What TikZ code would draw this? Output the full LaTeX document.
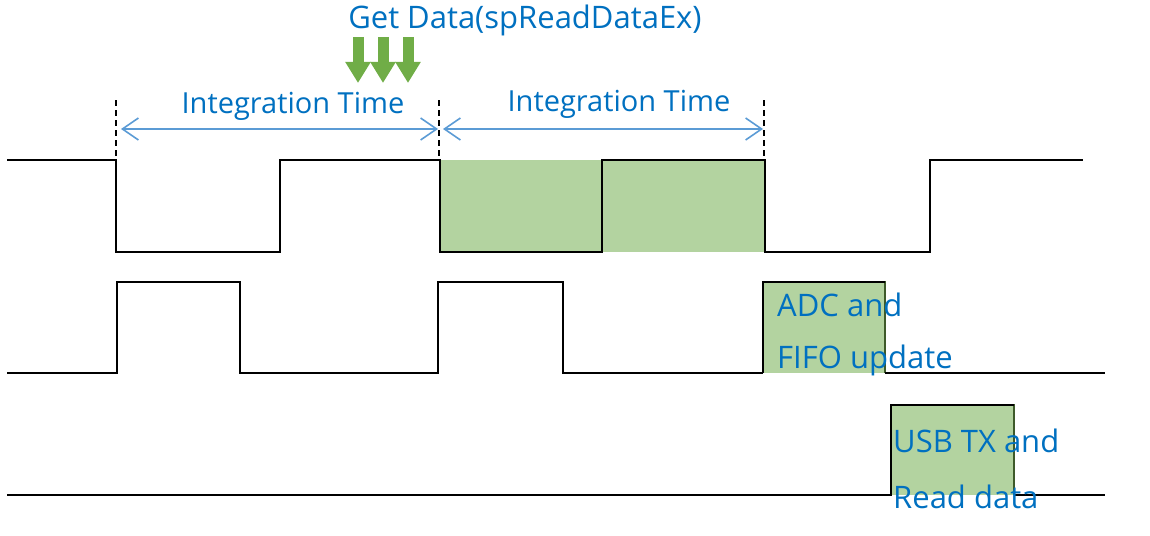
\documentclass[tikz,border=0pt]{standalone}
\usepackage{fontspec}
\setmainfont{Open Sans}
\usetikzlibrary{arrows.meta}
\definecolor{lbl}{HTML}{0070C0}
\definecolor{arr}{HTML}{5B9BD5}
\definecolor{gfill}{HTML}{B3D3A0}
\definecolor{gedge}{HTML}{3E5A2A}
\definecolor{garrow}{HTML}{70AD47}
\tikzset{
  wave/.style={black, line width=1.6pt},
  lbltext/.style={text=lbl, font=\fontsize{31}{36}\selectfont, inner sep=0pt, anchor=west},
  dimtext/.style={text=lbl, font=\fontsize{29}{34}\selectfont, inner sep=0pt, anchor=center},
  dimarrow/.style={arr, line width=1.6pt, {Straight Barb[length=16pt,width=22pt]}-{Straight Barb[length=16pt,width=22pt]}},
  guide/.style={black, line width=1.5pt, dash pattern=on 6pt off 4pt},
  getarrow/.style={garrow, line width=11pt, -{Triangle[length=21pt,width=24pt]}},
  busybox/.style={fill=gfill, draw=gedge, line width=1.2pt}
}
\begin{document}
\begin{tikzpicture}[x=1pt,y=-1pt]
\useasboundingbox (0,0) rectangle (1150,535);
% integration-period fill
\fill[gfill] (440,160) rectangle (765,252);
% busy boxes
\draw[busybox] (763,373) -- (763,282) -- (885,282) -- (885,373);
\draw[busybox] (891,495) -- (891,405) -- (1014,405) -- (1014,495);
% waveform 1
\draw[wave] (7,160) -- (116,160) -- (116,252) -- (280,252) -- (280,160) -- (440,160) -- (440,252) -- (602,252) -- (602,160) -- (765,160) -- (765,252) -- (930,252) -- (930,160) -- (1083,160);
% waveform 2
\draw[wave] (7,373) -- (117,373) -- (117,282) -- (240,282) -- (240,373) -- (438,373) -- (438,282) -- (563,282) -- (563,373) -- (763,373);
\draw[wave] (885,373) -- (1105,373);
\draw[wave] (763,373) -- (763,282) -- (885,282);
% waveform 3
\draw[wave] (7,495) -- (891,495) -- (891,405) -- (1014,405);
\draw[wave] (1014,495) -- (1105,495);
% guides
\coordinate (g1t) at (116,100); \coordinate (g1b) at (116,160);
\coordinate (g2t) at (439,100); \coordinate (g2b) at (439,160);
\coordinate (g3t) at (764,100); \coordinate (g3b) at (764,160);
\draw[guide] (g1t) -- (g1b);
\draw[guide] (g2t) -- (g2b);
\draw[guide] (g3t) -- (g3b);
% dimension arrows
\coordinate (a1s) at (121,129); \coordinate (a1e) at (438,129);
\coordinate (a2s) at (443,129); \coordinate (a2e) at (763,129);
\draw[dimarrow] (a1s) -- (a1e);
\draw[dimarrow] (a2s) -- (a2e);
\node[dimtext] (it1) at (293,106) {Integration Time};
\node[dimtext] (it2) at (619,104) {Integration Time};
% get data
\node[lbltext, anchor=center] (gd) at (525,20) {Get Data(spReadDataEx)};
\draw[getarrow] (358,37) -- (358,83);
\draw[getarrow] (383,37) -- (383,83);
\draw[getarrow] (408,37) -- (408,83);
% labels
\node[lbltext] (adc1) at (777,305) {ADC and};
\node[lbltext] (adc2) at (777,360) {FIFO update};
\node[lbltext] (usb1) at (893,441) {USB TX and};
\node[lbltext] (usb2) at (893,497) {Read data};
\end{tikzpicture}
\end{document}
